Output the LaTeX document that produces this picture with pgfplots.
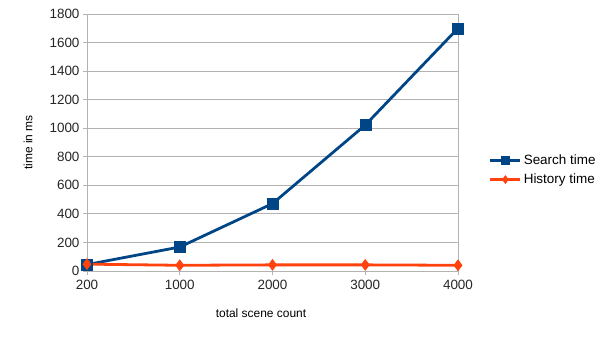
\documentclass[border=0pt]{standalone}
\usepackage{pgfplots}
\pgfplotsset{compat=1.18}
\usepackage{fontspec}
\setmainfont{Liberation Sans}
\definecolor{sblue}{HTML}{004586}
\definecolor{horange}{HTML}{FF420E}
\definecolor{gridg}{HTML}{B3B3B3}
\begin{document}
\begin{tikzpicture}
\begin{axis}[
  scale only axis,
  width=371bp, height=257bp,
  xmin=0, xmax=4, ymin=0, ymax=1800,
  xtick={0,1,2,3,4},
  xticklabels={200,1000,2000,3000,4000},
  ytick={0,200,...,1800},
  ymajorgrids,
  grid style={gridg, line width=0.8pt},
  axis line style={gridg, line width=0.8pt},
  tick style={gridg, line width=0.8pt},
  major tick length=4bp,
  tick align=outside,
  xtick pos=bottom, ytick pos=left,
  /pgf/number format/assume math mode=true,
  /pgf/number format/1000 sep={},
  tick label style={font=\fontsize{13.5}{15}\selectfont, text=black!85},
  xticklabel style={yshift=-2bp},
  label style={font=\fontsize{12}{14}\selectfont, text=black},
  xlabel={total scene count},
  ylabel={time in ms},
  xlabel style={at={(axis description cs:0.469,-0.163)}, anchor=center},
  ylabel style={at={(axis description cs:-0.159,0.5)}, anchor=center},
  clip=false,
  legend style={draw=none, fill=none, at={(1.075,0.393)}, anchor=west,
    font=\fontsize{13.5}{15}\selectfont, row sep=4bp},
  legend cell align=left,
  legend image code/.code={
    \draw[#1] (0bp,0bp) -- (30bp,0bp);
    \draw[#1, only marks, mark size=4bp] plot coordinates {(15bp,0bp)};
  },
]
\addplot[sblue, line width=2.8pt, mark=square*, mark size=5.5bp, mark options={line width=0.5pt}]
  coordinates {(0,45) (1,168) (2,472) (3,1022) (4,1700)};
\addlegendentry{Search time}
\addplot[horange, line width=2.8pt, mark=diamond*, mark size=5.5bp, mark options={line width=0.5pt}]
  coordinates {(0,48) (1,40) (2,43) (3,43) (4,40)};
\addlegendentry{History time}
\end{axis}
\pgfresetboundingbox
\path[use as bounding box] ([xshift=-87bp,yshift=-70bp]current axis.south west) rectangle ([xshift=147bp,yshift=14bp]current axis.north east);
\end{tikzpicture}
\end{document}
